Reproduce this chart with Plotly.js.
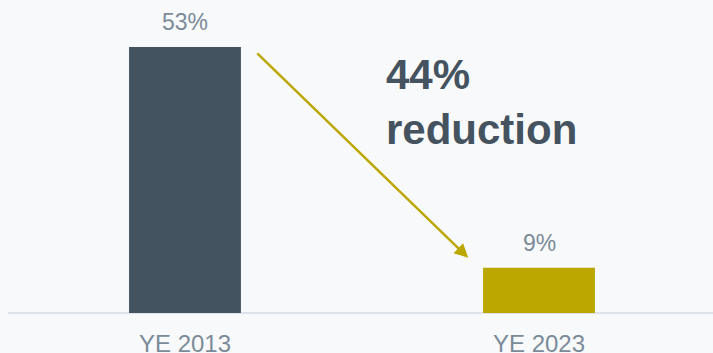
<!DOCTYPE html>
<html><head><meta charset="utf-8">
<script src="https://cdn.plot.ly/plotly-3.0.1.min.js"></script>
<style>html,body{margin:0;padding:0;background:#f8f9fb;}</style>
</head><body>
<div id="chart" style="width:713px;height:353px;"></div>
<script>
const categories = ["YE 2013", "YE 2023"];
const values = [53, 9];
const barColors = ["#43535f", "#bca600"];
const valueLabels = values.map(v => v + "%");
const calloutText = "44%<br>reduction";

const labelColor = "#7b8b98";
const font = "Liberation Sans, Arial, sans-serif";

const trace = {
  type: "bar",
  x: [0, 1],
  y: values,
  width: 0.316,
  marker: {color: barColors},
  hoverinfo: "skip"
};

const annotations = values.map((v, i) => ({
  x: i, y: v, xref: "x", yref: "y",
  text: valueLabels[i], showarrow: false,
  yanchor: "bottom", yshift: 10,
  font: {family: font, size: 23, color: labelColor}
}));

annotations.push({
  x: 1 - 0.2, y: values[1] + 2, xref: "x", yref: "y",
  ax: 0 + 0.2, ay: values[0] - 1, axref: "x", ayref: "y",
  showarrow: true, arrowhead: 2, arrowsize: 1.1, arrowwidth: 2.5,
  arrowcolor: "#bca600", text: ""
});

annotations.push({
  x: 0.562, y: 42, xref: "x", yref: "y",
  xanchor: "left", yanchor: "middle", align: "left",
  text: "<b>" + calloutText + "</b>", showarrow: false,
  font: {family: font, size: 42, color: "#44535f"}
});

const layout = {
  width: 713, height: 353,
  margin: {l: 8, r: 0, t: 0, b: 40},
  paper_bgcolor: "#f8f9fb",
  plot_bgcolor: "#f8f9fb",
  showlegend: false,
  xaxis: {
    range: [-0.5, 1.4915],
    tickvals: [0, 1], ticktext: categories,
    showgrid: false, zeroline: false,
    showline: false, ticks: "",
    ticklabelstandoff: 14,
    tickfont: {family: font, size: 24, color: labelColor},
    fixedrange: true
  },
  yaxis: {
    range: [0, 62.36],
    showgrid: false, showticklabels: false,
    zeroline: true, zerolinecolor: "#dde2e8", zerolinewidth: 2,
    fixedrange: true
  },
  annotations: annotations
};

Plotly.newPlot("chart", [trace], layout, {displayModeBar: false, staticPlot: true});
</script>
</body></html>
